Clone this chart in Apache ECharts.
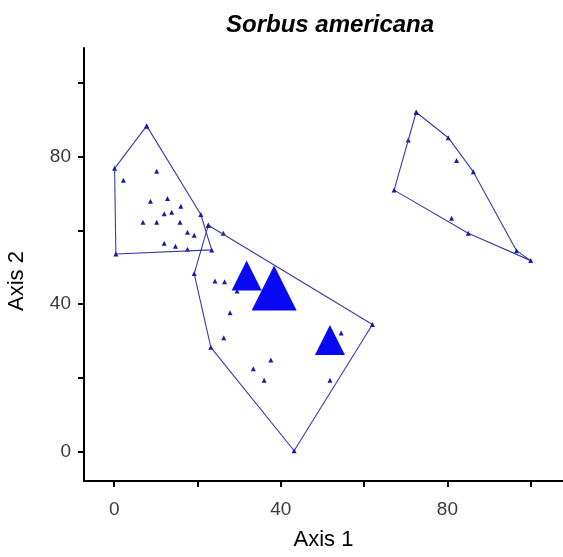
<!DOCTYPE html>
<html>
<head>
<meta charset="utf-8">
<script src="https://cdn.jsdelivr.net/npm/echarts@6/dist/echarts.min.js"></script>
<style>
  html, body { margin: 0; padding: 0; background: #ffffff; }
  #chart { width: 563px; height: 557px; }
</style>
</head>
<body>
<div id="chart"></div>
<script>
// Ordination of plots: three groups, each outlined by its convex hull.
const titleText = 'Sorbus americana';
const xName = 'Axis 1';
const yName = 'Axis 2';
const xTickValues = [0, 20, 40, 60, 80, 100];
const yTickValues = [0, 20, 40, 60, 80, 100];
const xLabelValues = [0, 40, 80];
const yLabelValues = [0, 40, 80];

// Hull outlines (closed by repeating the first vertex)
const hullA = [[7.8, 88.3], [20.8, 64.3], [23.4, 54.7], [0.4, 53.6], [0.1, 76.8], [7.8, 88.3]];
const hullB = [[22.6, 61.4], [62.0, 34.5], [43.2, 0.3], [23.2, 28.3], [19.2, 48.3], [22.6, 61.4]];
const hullC = [[72.5, 92.0], [80.2, 85.1], [86.2, 75.9], [96.6, 54.5], [100.0, 51.8], [85.0, 59.2], [67.2, 70.9], [72.5, 92.0]];

// Plots inside or on the edge of each hull
const plotsA = [[10.2, 76.0], [2.2, 73.6], [8.7, 67.9], [12.8, 68.6], [16.0, 66.5], [12.0, 64.5], [13.8, 64.9],
  [6.9, 62.2], [10.2, 62.2], [15.8, 62.2], [17.6, 59.5], [19.2, 58.7], [12.0, 56.5], [14.7, 55.7], [17.6, 54.9]];
const plotsB = [[26.2, 59.2], [24.2, 46.3], [26.5, 46.1], [29.5, 43.6], [27.8, 37.7], [26.3, 30.9],
  [37.6, 24.9], [33.4, 22.5], [36.0, 19.4], [54.5, 32.2], [51.8, 19.4]];
const plotsC = [[82.2, 78.9], [81.0, 63.3], [70.6, 84.5]];

// Plots where the species occurs, with relative abundance
const presence = [[31.8, 47.8], [38.4, 44.4], [51.8, 30.3]];
const abundance = [2, 3, 2];

const lineColor = '#3a3aa6';
const dotColor = '#1a1aa8';
const presenceColor = '#0808f2';
const font = 'Liberation Sans, Arial, sans-serif';

function hullSeries(data) {
  return {
    type: 'line', data: data, silent: true,
    symbol: 'triangle', symbolSize: 5, showSymbol: true,
    lineStyle: { color: lineColor, width: 1.1 },
    itemStyle: { color: dotColor, opacity: 1 }
  };
}
function plotSeries(data) {
  return {
    type: 'scatter', data: data, silent: true,
    symbol: 'triangle', symbolSize: 5,
    itemStyle: { color: dotColor, opacity: 1 }
  };
}

const chart = echarts.init(document.getElementById('chart'), null, { renderer: 'canvas' });
chart.setOption({
  animation: false,
  backgroundColor: '#ffffff',
  title: {
    text: titleText, left: 221, top: 8,
    textStyle: { fontFamily: font, fontSize: 24, fontWeight: 'bold', fontStyle: 'italic', color: '#000' }
  },
  grid: { left: 84, right: 0, top: 48, bottom: 76, containLabel: false },
  xAxis: {
    type: 'value', min: -7.25, max: 107.75,
    name: xName, nameLocation: 'middle', nameGap: 48,
    nameTextStyle: { fontFamily: font, fontSize: 22, color: '#000' },
    axisLine: { onZero: false, lineStyle: { color: '#000', width: 2 } },
    axisTick: { show: true, length: 6, customValues: xTickValues, lineStyle: { color: '#000', width: 2 } },
    axisLabel: { customValues: xLabelValues, margin: 19, fontFamily: font, fontSize: 19, color: '#3a3a3a' },
    splitLine: { show: false }
  },
  yAxis: {
    type: 'value', min: -7.9, max: 109.4,
    axisLine: { onZero: false, lineStyle: { color: '#000', width: 2 } },
    axisTick: { show: true, length: 6, customValues: yTickValues, lineStyle: { color: '#000', width: 2 } },
    axisLabel: { customValues: yLabelValues, margin: 13, fontFamily: font, fontSize: 19, color: '#3a3a3a' },
    splitLine: { show: false }
  },
  graphic: [{
    type: 'text', x: 17, y: 281, rotation: Math.PI / 2,
    style: { text: yName, fontFamily: font, fontSize: 22, fill: '#000', align: 'center', verticalAlign: 'middle' }
  }],
  series: [
    hullSeries(hullA), hullSeries(hullB), hullSeries(hullC),
    plotSeries(plotsA), plotSeries(plotsB), plotSeries(plotsC),
    {
      type: 'scatter', silent: true, symbol: 'triangle',
      data: presence.map((p, i) => ({ value: p, symbolSize: 15 * abundance[i] })),
      itemStyle: { color: presenceColor, opacity: 1 }, z: 5
    }
  ]
});
</script>
</body>
</html>
